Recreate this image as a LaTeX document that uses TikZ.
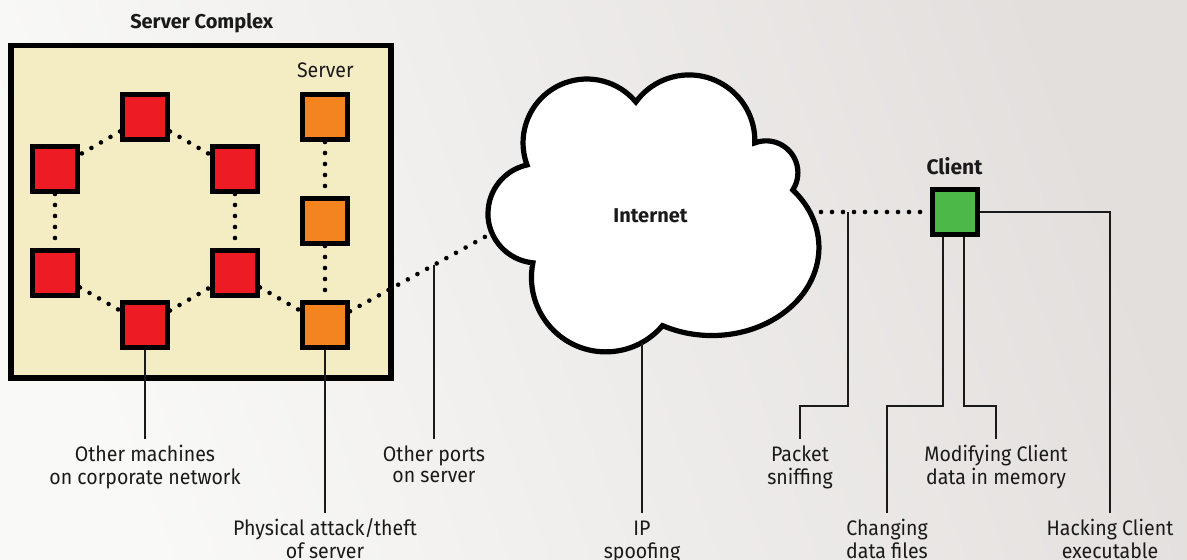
\documentclass[tikz,border=0pt]{standalone}
\usepackage{fontspec}
\setmainfont{Fira Sans}
\newfontfamily\lblfont[FakeStretch=0.93]{Fira Sans}
\usetikzlibrary{calc}

\definecolor{bglight}{HTML}{F9F9F8}
\definecolor{bgdark}{HTML}{E3DFDD}
\definecolor{complexfill}{HTML}{F4EDC4}
\definecolor{machred}{HTML}{ED1C24}
\definecolor{servorange}{HTML}{F3841F}
\definecolor{clientgreen}{HTML}{4CB848}
\definecolor{ink}{HTML}{1A1A1A}

\newcommand\twoline[2]{\begin{tabular}[t]{@{}c@{}}#1\\#2\end{tabular}}

\tikzset{
  enclosure/.style={draw=black, fill=complexfill, line width=2.75pt,
    minimum width=190pt, minimum height=166.25pt, inner sep=0pt},
  box/.style={draw=black, line width=2.5pt, minimum size=22.5pt,
    inner sep=0pt, rectangle},
  machine/.style={box, fill=machred},
  server/.style={box, fill=servorange},
  clientbox/.style={box, fill=clientgreen},
  link/.style={line width=2.3pt, line cap=round, dash pattern=on 0pt off 5.5pt},
  cloudline/.style={draw=black, fill=white, line width=2.6pt, miter limit=4},
  leader/.style={line width=0.6pt, draw=ink},
  lbl/.style={inner sep=0pt, anchor=base, text=ink,
    font=\lblfont\fontsize{10.5}{10.5}\selectfont},
  head/.style={inner sep=0pt, anchor=base, text=ink,
    font=\bfseries\fontsize{10}{12}\selectfont},
}

\begin{document}
\begin{tikzpicture}[x=0.5pt, y=0.5pt]
\useasboundingbox (0,0) rectangle (1187,560);
\shade[top color=bgdark, bottom color=bglight, shading angle=-70]
  (0,0) rectangle (1187,560);

% server complex enclosure
\node[enclosure] (complex) at (201,348.25) {};
\node[head] (title) at (201.7,531.7) {Server Complex};
\node[lbl] (srvlbl) at (325.3,482.7) {Server};

% ring of corporate machines
\node[machine] (r1) at (145,443) {};
\node[machine] (r2) at (55,391) {};
\node[machine] (r3) at (235,391) {};
\node[machine] (r4) at (55,287) {};
\node[machine] (r5) at (235,287) {};
\node[machine] (r6) at (145,235) {};

% server column
\node[server] (o1) at (325,443) {};
\node[server] (o2) at (325,339) {};
\node[server] (o3) at (325,235) {};

% client
\node[clientbox] (client) at (955,348) {};
\node[head, font=\bfseries\fontsize{10.5}{12}\selectfont] (clientlbl) at (954.5,385) {Client};

% points on the cloud outline and on the links
\coordinate (cloudL) at (492,327);
\coordinate (cloudR) at (810,348);
\coordinate (cloudB) at (642,217.3);
\coordinate (portsTap) at (434,295);
\coordinate (sniffTap) at (848,348);
\coordinate (chgTap) at ($(client.south)+(-12,0)$);
\coordinate (modTap) at ($(client.south)+(9,0)$);
\coordinate (bus) at (0,154);

% network links
\draw[link] (r1) -- (r2);
\draw[link] (r1) -- (r3);
\draw[link] (r2) -- (r4);
\draw[link] (r3) -- (r5);
\draw[link] (r4) -- (r6);
\draw[link] (r6) -- (r5);
\draw[link] (r5) -- (o3);
\draw[link] (o1) -- (o2);
\draw[link] (o2) -- (o3);
\draw[link] (o3) -- (cloudL);
\draw[link] (cloudR) -- (client);

% internet cloud: six lobes, starting and ending at the far left
\draw[cloudline] (488,346.5)
  arc[start angle=180, end angle=102.4, radius=49.7]
  arc[start angle=200.3, end angle=39.8, radius=63.8]
  arc[start angle=143.9, end angle=-1.9, radius=65.8]
  arc[start angle=110.8, end angle=-32.9, radius=31.8]
  arc[start angle=40.9, end angle=-117.5, x radius=107, y radius=88]
  arc[start angle=-40.3, end angle=-191.4, radius=74.37]
  arc[start angle=264.6, end angle=180, radius=49.7];
\node[head, font=\bfseries\fontsize{10}{12}\selectfont] (internet) at (650.5,337.7) {Internet};

% attack labels
\node[lbl] (othermach) at (145,98) {\twoline{Other machines}{on corporate network}};
\node[lbl] (ports) at (434,98) {\twoline{Other ports}{on server}};
\node[lbl] (packet) at (800,98) {\twoline{Packet}{sniffing}};
\node[lbl] (modify) at (996,98) {\twoline{Modifying Client}{data in memory}};
\node[lbl] (phys) at (325,24) {\twoline{Physical attack/theft}{of server}};
\node[lbl] (ip) at (642,24) {\twoline{IP}{spoofing}};
\node[lbl] (change) at (887,24) {\twoline{Changing}{data files}};
\node[lbl] (hack) at (1110,24) {\twoline{Hacking Client}{executable}};

% leader ends just above each label
\coordinate (othermachEnd) at ($(othermach.base)+(0,22.7)$);
\coordinate (portsEnd) at ($(ports.base)+(0,22.7)$);
\coordinate (packetEnd) at ($(packet.base)+(0,22.7)$);
\coordinate (modifyEnd) at ($(modify.base)+(0,22.7)$);
\coordinate (physEnd) at ($(phys.base)+(0,22.5)$);
\coordinate (ipEnd) at ($(ip.base)+(0,22.5)$);
\coordinate (changeEnd) at ($(change.base)+(0,22.5)$);
\coordinate (hackEnd) at ($(hack.base)+(0,22.5)$);

% leader lines
\draw[leader] (r6.south) -- (othermachEnd);
\draw[leader] (o3.south) -- (physEnd);
\draw[leader] (portsTap) -- (portsEnd);
\draw[leader] (cloudB) -- (ipEnd);
\draw[leader] (sniffTap) -- (sniffTap |- bus) -| (packetEnd);
\draw[leader] (chgTap) -- (chgTap |- bus) -| (changeEnd);
\draw[leader] (modTap) -- (modTap |- bus) -| (modifyEnd);
\draw[leader] (client.east) -| (hackEnd);
\end{tikzpicture}
\end{document}
